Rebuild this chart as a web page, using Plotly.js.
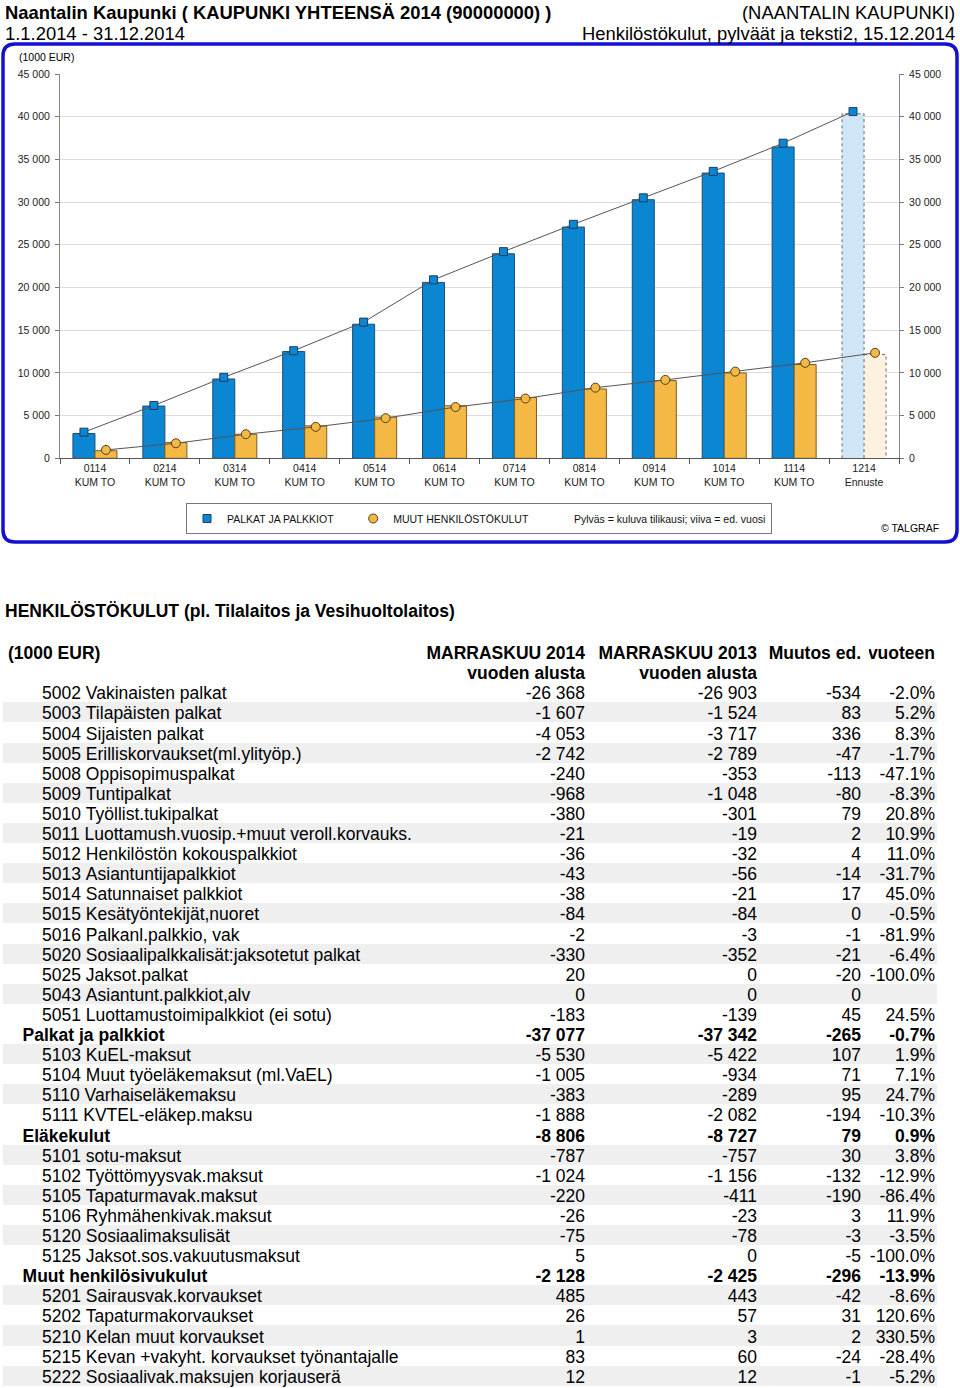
<!DOCTYPE html>
<html><head><meta charset="utf-8">
<script src="https://cdn.plot.ly/plotly-3.0.1.min.js"></script>
<style>html,body{margin:0;padding:0;background:#fff;}#chart{width:960px;height:1388px;}</style>
</head><body><div id="chart"></div>
<script>
// ---------- chart data ----------
const categories = ['0114','0214','0314','0414','0514','0614','0714','0814','0914','1014','1114','1214'];
const categorySub = ['KUM TO','KUM TO','KUM TO','KUM TO','KUM TO','KUM TO','KUM TO','KUM TO','KUM TO','KUM TO','KUM TO','Ennuste'];
const palkatCurrent  = [2900, 6120, 9290, 12500, 15700, 20600, 23950, 27080, 30280, 33400, 36460, 40350];
const palkatPrevious = [3060, 6190, 9480, 12600, 15950, 20900, 24200, 27400, 30500, 33600, 36900, 40600];
const muutCurrent    = [890, 1840, 2820, 3800, 4820, 6150, 7130, 8120, 9100, 10000, 10980, 12150];
const muutPrevious   = [980, 1760, 2820, 3680, 4700, 6000, 7000, 8270, 9180, 10150, 11180, 12350];
const yTicks = [0, 5000, 10000, 15000, 20000, 25000, 30000, 35000, 40000, 45000];
const legendNames = ['PALKAT JA PALKKIOT', 'MUUT HENKILÖSTÖKULUT', 'Pylväs = kuluva tilikausi; viiva = ed. vuosi'];

// ---------- table data ----------
const rowLabels = ['5002 Vakinaisten palkat','5003 Tilapäisten palkat','5004 Sijaisten palkat','5005 Erilliskorvaukset(ml.ylityöp.)','5008 Oppisopimuspalkat','5009 Tuntipalkat','5010 Työllist.tukipalkat','5011 Luottamush.vuosip.+muut veroll.korvauks.','5012 Henkilöstön kokouspalkkiot','5013 Asiantuntijapalkkiot','5014 Satunnaiset palkkiot','5015 Kesätyöntekijät,nuoret','5016 Palkanl.palkkio, vak','5020 Sosiaalipalkkalisät:jaksotetut palkat','5025 Jaksot.palkat','5043 Asiantunt.palkkiot,alv','5051 Luottamustoimipalkkiot (ei sotu)','Palkat ja palkkiot','5103 KuEL-maksut','5104 Muut työeläkemaksut (ml.VaEL)','5110 Varhaiseläkemaksu','5111 KVTEL-eläkep.maksu','Eläkekulut','5101 sotu-maksut','5102 Työttömyysvak.maksut','5105 Tapaturmavak.maksut','5106 Ryhmähenkivak.maksut','5120 Sosiaalimaksulisät','5125 Jaksot.sos.vakuutusmaksut','Muut henkilösivukulut','5201 Sairausvak.korvaukset','5202 Tapaturmakorvaukset','5210 Kelan muut korvaukset','5215 Kevan +vakyht. korvaukset työnantajalle','5222 Sosiaalivak.maksujen korjauserä'];
const rowIsSum = [0,0,0,0,0,0,0,0,0,0,0,0,0,0,0,0,0,1,0,0,0,0,1,0,0,0,0,0,0,1,0,0,0,0,0];
const value2014 = [-26368,-1607,-4053,-2742,-240,-968,-380,-21,-36,-43,-38,-84,-2,-330,20,0,-183,-37077,-5530,-1005,-383,-1888,-8806,-787,-1024,-220,-26,-75,5,-2128,485,26,1,83,12];
const value2013 = [-26903,-1524,-3717,-2789,-353,-1048,-301,-19,-32,-56,-21,-84,-3,-352,0,0,-139,-37342,-5422,-934,-289,-2082,-8727,-757,-1156,-411,-23,-78,0,-2425,443,57,3,60,12];
const changeValue = [-534,83,336,-47,-113,-80,79,2,4,-14,17,0,-1,-21,-20,0,45,-265,107,71,95,-194,79,30,-132,-190,3,-3,-5,-296,-42,31,2,-24,-1];
const changePct = [-2.0,5.2,8.3,-1.7,-47.1,-8.3,20.8,10.9,11.0,-31.7,45.0,-0.5,-81.9,-6.4,-100.0,null,24.5,-0.7,1.9,7.1,24.7,-10.3,0.9,3.8,-12.9,-86.4,11.9,-3.5,-100.0,-13.9,-8.6,120.6,330.5,-28.4,-5.2];
const headerCols = [['(1000 EUR)',''],['MARRASKUU 2014','vuoden alusta'],['MARRASKUU 2013','vuoden alusta'],['Muutos ed.',''],['vuoteen','']];

// ---------- helpers ----------
const W = 960, H = 1388;
const px = v => v / W;
const py = v => 1 - v / H;
const FONT = 'Liberation Sans, Arial, sans-serif';
const NB = '\u00a0';
const nb = s => s.replace(/ /g, NB);
const fmt = n => (n < 0 ? '-' : '') + Math.abs(n).toString().replace(/\B(?=(\d{3})+(?!\d))/g, NB);
const fmtPct = p => p === null ? '' : p.toFixed(1) + '%';

const bargap = 0.37;
const half = (1 - bargap) / 4;
const idx = categories.map((c, i) => i);
const last = categories.length - 1;

const blueFill = categories.map((c, i) => i === last ? '#D0E6F6' : '#0A86D2');
const orangeFill = categories.map((c, i) => i === last ? '#FDF1DF' : '#F3B944');
const lineW = categories.map((c, i) => i === last ? 0 : 1);

const traces = [];
traces.push({type:'bar', x:categories, y:palkatCurrent, marker:{color:blueFill, line:{color:'#1E4E74', width:lineW}}, showlegend:false, hoverinfo:'skip'});
traces.push({type:'bar', x:categories, y:muutCurrent, marker:{color:orangeFill, line:{color:'#7A5E26', width:lineW}}, showlegend:false, hoverinfo:'skip'});
// dashed outline for forecast bars
const bw = 2 * half;
traces.push({type:'scatter', xaxis:'x2', mode:'lines', hoverinfo:'skip', showlegend:false,
  x:[last-bw, last-bw, last, last, null, last, last+bw, last+bw],
  y:[0, palkatCurrent[last], palkatCurrent[last], 0, null, muutCurrent[last], muutCurrent[last], 0],
  line:{color:'#666', width:1, dash:'dot'}});
traces.push({type:'scatter', xaxis:'x2', mode:'lines+markers', x:idx.map(i => i - half), y:palkatPrevious,
  line:{color:'#555', width:1}, marker:{symbol:'square', size:8, color:'#0A86D2', line:{color:'#1E3F5E', width:1}}, showlegend:false, hoverinfo:'skip'});
traces.push({type:'scatter', xaxis:'x2', mode:'lines+markers', x:idx.map(i => i + half), y:muutPrevious,
  line:{color:'#555', width:1}, marker:{symbol:'circle', size:9, color:'#F3B944', line:{color:'#4E3F1C', width:1}}, showlegend:false, hoverinfo:'skip'});
// legend entries
traces.push({type:'scatter', xaxis:'x2', mode:'markers', x:[null], y:[null], name:legendNames[0] + NB.repeat(5),
  marker:{symbol:'square', size:8, color:'#0A86D2', line:{color:'#1E3F5E', width:1}}});
traces.push({type:'scatter', xaxis:'x2', mode:'markers', x:[null], y:[null], name:legendNames[1],
  marker:{symbol:'circle', size:9, color:'#F3B944', line:{color:'#4E3F1C', width:1}}});
traces.push({type:'scatter', xaxis:'x2', mode:'markers', x:[null], y:[null], name:legendNames[2],
  marker:{symbol:'circle', size:1, color:'rgba(0,0,0,0)', line:{width:0}}});
traces.push({type:'scatter', yaxis:'y2', xaxis:'x2', x:[null], y:[null], showlegend:false, hoverinfo:'skip'});

// ---------- table ----------
let detailCount = 0;
const rowFill = rowLabels.map((l, i) => {
  if (rowIsSum[i]) return '#FFFFFF';
  const c = (detailCount % 2 === 1) ? '#EFEFEF' : '#FFFFFF';
  detailCount++;
  return c;
});
const rowWeight = rowIsSum.map(s => s ? 'bold' : 'normal');
const labelText = rowLabels.map((l, i) => (rowIsSum[i] ? NB.repeat(3) : NB.repeat(7)) + nb(l));
const cellsValues = [labelText, value2014.map(fmt), value2013.map(fmt), changeValue.map(fmt), changePct.map(fmtPct)];
const colW = [420, 173, 172, 104, 74];
const tableRight = colW.reduce((a, b) => a + b, 0);
const rowH = 20.1;
const bandTop = 642;   // top of table rows (bands)
const textTop = 638;   // text layer slightly raised
// background band layer (fills only)
traces.push({
  type:'table', domain:{x:[px(3), px(937)], y:[0, py(bandTop)]},
  header:{values:[['','']], height:rowH, fill:{color:'#FFFFFF'}, line:{width:0, color:'#FFFFFF'}},
  cells:{values:[rowLabels.map(() => '')], height:rowH, fill:{color:[rowFill]}, line:{width:0, color:'rgba(0,0,0,0)'}}
});
// text layer
traces.push({
  type:'table', domain:{x:[0, px(tableRight)], y:[0, py(textTop)]},
  columnwidth: colW,
  header:{values: headerCols.map(c => c.map(nb)), align:['left','right','right','right','right'], height:rowH,
    fill:{color:'rgba(0,0,0,0)'}, line:{width:0, color:'rgba(0,0,0,0)'},
    font:{family:FONT, size:17.5, color:'#000', weight:'bold'}},
  cells:{values: cellsValues, align:['left','right','right','right','right'], height:rowH,
    fill:{color:'rgba(0,0,0,0)'}, line:{width:0, color:'rgba(0,0,0,0)'},
    font:{family:FONT, size:17.5, color:'#000', weight: cellsValues.map(() => rowWeight)}}
});

// ---------- layout ----------
const r = 12, bx0 = 3, bx1 = 957, by0 = 44, by1 = 542;
const borderPath = `M${px(bx0+r)},${py(by0)} L${px(bx1-r)},${py(by0)} Q${px(bx1)},${py(by0)} ${px(bx1)},${py(by0+r)} L${px(bx1)},${py(by1-r)} Q${px(bx1)},${py(by1)} ${px(bx1-r)},${py(by1)} L${px(bx0+r)},${py(by1)} Q${px(bx0)},${py(by1)} ${px(bx0)},${py(by1-r)} L${px(bx0)},${py(by0+r)} Q${px(bx0)},${py(by0)} ${px(bx0+r)},${py(by0)} Z`;

const tickFont = {family:FONT, size:10.5, color:'#222'};
const ann = (text, x, y, xanchor, size, bold) => ({text, x:px(x), y:py(y), xref:'paper', yref:'paper', xanchor, yanchor:'middle', showarrow:false,
  font:{family:FONT, size, color:'#000', weight: bold ? 'bold' : 'normal'}});

const layout = {
  width:W, height:H, margin:{l:0, r:0, t:0, b:0}, paper_bgcolor:'#fff', plot_bgcolor:'#fff',
  separators:', ', barmode:'group', bargap:bargap, bargroupgap:0,
  font:{family:FONT},
  xaxis:{domain:[px(60), px(899)], type:'category', tickvals:categories, ticktext:categories.map((c, i) => c + '<br>' + categorySub[i]),
    tickson:'boundaries', ticks:'outside', ticklen:5, tickcolor:'#555', showline:true, linecolor:'#555', linewidth:1,
    showgrid:false, tickfont:tickFont, range:[-0.5, 11.5], fixedrange:true},
  xaxis2:{overlaying:'x', range:[-0.5, 11.5], visible:false, fixedrange:true},
  yaxis:{domain:[py(458.3), py(74)], range:[0, 45000], tickvals:yTicks, tickformat:',d', ticks:'outside', ticklen:4, tickcolor:'#777',
    showline:true, linecolor:'#888', showgrid:true, gridcolor:'#DDDDDD', gridwidth:1, zeroline:false, tickfont:tickFont, ticklabelstandoff:3, fixedrange:true},
  yaxis2:{overlaying:'y', side:'right', range:[0, 45000], tickvals:yTicks, tickformat:',d', ticks:'outside', ticklen:4, tickcolor:'#777',
    showline:true, linecolor:'#888', showgrid:false, zeroline:false, tickfont:tickFont, ticklabelstandoff:3, fixedrange:true},
  legend:{orientation:'h', x:px(186), y:py(503), xanchor:'left', yanchor:'top', bgcolor:'#fff', bordercolor:'#777', borderwidth:1,
    font:{family:FONT, size:10.5, color:'#111'}, traceorder:'normal'},
  shapes:[{type:'path', xref:'paper', yref:'paper', path:borderPath, line:{color:'#1212CC', width:3.5}, fillcolor:'rgba(0,0,0,0)'}],
  annotations:[
    ann('Naantalin Kaupunki ( KAUPUNKI YHTEENSÄ 2014 (90000000) )', 3, 13, 'left', 18.4, true),
    ann('(NAANTALIN KAUPUNKI)', 957, 13, 'right', 18.4, false),
    ann('1.1.2014 - 31.12.2014', 3, 34, 'left', 18.4, false),
    ann('Henkilöstökulut, pylväät ja teksti2, 15.12.2014', 957, 34, 'right', 18.4, false),
    ann('(1000 EUR)', 17, 57, 'left', 10.5, false),
    ann('© TALGRAF', 941, 528, 'right', 10.5, false),
    ann('HENKILÖSTÖKULUT (pl. Tilalaitos ja Vesihuoltolaitos)', 3, 611, 'left', 17.5, true)
  ]
};

Plotly.newPlot('chart', traces, layout, {staticPlot:true, displayModeBar:false});
</script></body></html>
